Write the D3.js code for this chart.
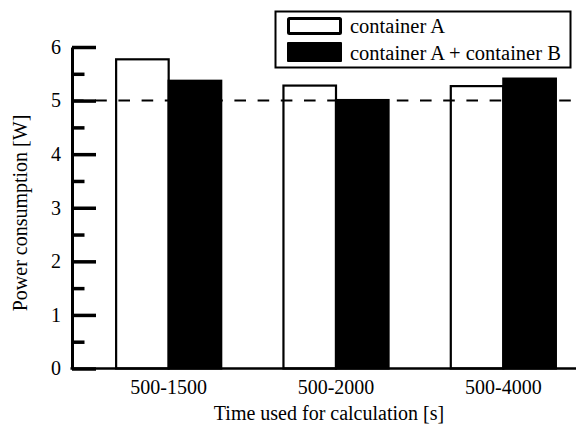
<!DOCTYPE html>
<html>
<head>
<meta charset="utf-8">
<script src="https://cdn.jsdelivr.net/npm/d3@7"></script>
<style>
  body { margin: 0; background: #fff; }
</style>
</head>
<body>
<svg width="579" height="425"></svg>
<script>
var categories = ["500-1500", "500-2000", "500-4000"];
var seriesNames = ["container A", "container A + container B"];
var containerA = [5.77, 5.28, 5.27];
var containerAB = [5.37, 5.01, 5.41];
var yTicks = [0, 1, 2, 3, 4, 5, 6];
var yMinorTicks = [0.5, 1.5, 2.5, 3.5, 4.5, 5.5];
var refLine = 5;

var serif = "'Liberation Serif', 'Times New Roman', Times, 'DejaVu Serif', serif";

var svg = d3.select("svg")
    .attr("font-family", serif),
  axisLeft = 72, axisRight = 576;

var x = d3.scaleBand()
  .domain(categories)
  .range([85, 587])
  .paddingInner(0.372)
  .paddingOuter(0.186);

var xs = d3.scaleBand()
  .domain(seriesNames)
  .range([0, x.bandwidth()]);

var y = d3.scaleLinear()
  .domain([0, 6])
  .range([368.5, 47]);

var fills = ["#fff", "#000"];
var data = categories.map(function(c, i) {
  return { cat: c, values: [containerA[i], containerAB[i]] };
});

// bars
var group = svg.selectAll(".grp")
  .data(data)
  .enter().append("g")
  .attr("class", "grp")
  .attr("transform", function(d) { return "translate(" + x(d.cat) + ",0)"; });

group.selectAll("rect")
  .data(function(d) { return d.values.map(function(v, j) { return { s: seriesNames[j], v: v, j: j }; }); })
  .enter().append("rect")
  .attr("x", function(d) { return xs(d.s); })
  .attr("width", xs.bandwidth())
  .attr("y", function(d) { return y(d.v); })
  .attr("height", function(d) { return y(0) - y(d.v); })
  .attr("fill", function(d) { return fills[d.j]; })
  .attr("stroke", "#000")
  .attr("stroke-width", 2.2);

// dashed line at 5 W
svg.append("line")
  .attr("x1", axisLeft).attr("x2", axisRight)
  .attr("y1", y(refLine)).attr("y2", y(refLine))
  .attr("stroke", "#000")
  .attr("stroke-width", 2)
  .attr("stroke-dasharray", "11.6,11.6");

// y axis, ticks point inward
var yAxis = svg.append("g")
  .attr("transform", "translate(" + axisLeft + ",0)")
  .call(d3.axisLeft(y).tickValues(yTicks).tickFormat(d3.format("d"))
    .tickSizeInner(-24).tickSizeOuter(0).tickPadding(11));
yAxis.attr("font-family", serif).attr("font-size", 20);
yAxis.selectAll(".tick line").attr("stroke-width", 3.5);
yAxis.select(".domain").attr("stroke-width", 3);

var yMinor = svg.append("g")
  .attr("transform", "translate(" + axisLeft + ",0)")
  .call(d3.axisLeft(y).tickValues(yMinorTicks).tickFormat("")
    .tickSizeInner(-12.5).tickSizeOuter(0));
yMinor.select(".domain").remove();
yMinor.selectAll(".tick line").attr("stroke-width", 3.5);

// x axis
var xAxis = svg.append("g")
  .attr("transform", "translate(0," + y(0) + ")")
  .call(d3.axisBottom(x).tickSizeInner(0).tickSizeOuter(0).tickPadding(11.3));
xAxis.attr("font-family", serif).attr("font-size", 20);
xAxis.select(".domain").remove();

svg.append("line")
  .attr("x1", axisLeft - 1.5).attr("x2", axisRight)
  .attr("y1", y(0)).attr("y2", y(0))
  .attr("stroke", "#000")
  .attr("stroke-width", 2.6);

// axis titles
svg.append("text")
  .attr("x", 329).attr("y", 420)
  .attr("text-anchor", "middle")
  .attr("font-size", 20)
  .text("Time used for calculation [s]");

svg.append("text")
  .attr("transform", "translate(27,213) rotate(-90)")
  .attr("text-anchor", "middle")
  .attr("font-size", 20)
  .text("Power consumption [W]");

// legend
var legend = svg.append("g");
legend.append("rect")
  .attr("x", 275.5).attr("y", 11.5)
  .attr("width", 295).attr("height", 56)
  .attr("fill", "#fff")
  .attr("stroke", "#000")
  .attr("stroke-width", 2);

var swatch = [{ y: 18.5, h: 15 }, { y: 42, h: 20 }];
seriesNames.forEach(function(name, i) {
  legend.append("rect")
    .attr("x", i === 0 ? 288.5 : 287).attr("y", swatch[i].y)
    .attr("width", i === 0 ? 52 : 55).attr("height", swatch[i].h)
    .attr("fill", fills[i])
    .attr("stroke", "#000")
    .attr("stroke-width", i === 0 ? 3 : 0)
    .attr("rx", 1);
  legend.append("text")
    .attr("x", 350).attr("y", i === 0 ? 33 : 60)
    .attr("font-size", 20.5)
    .text(name);
});
</script>
</body>
</html>
